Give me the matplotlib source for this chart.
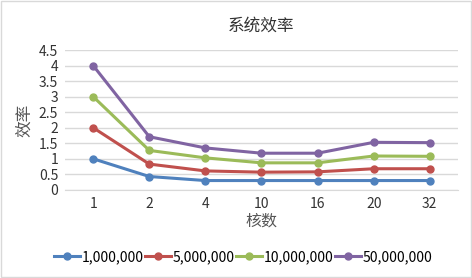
import numpy as np
import matplotlib.pyplot as plt
from matplotlib.patches import Rectangle

plt.rcParams['font.family'] = ['Noto Sans CJK SC', 'DejaVu Sans']

# data
cores = ['1', '2', '4', '10', '16', '20', '32']
s_1m = [1.0, 0.43, 0.30, 0.30, 0.30, 0.30, 0.30]
s_5m = [2.0, 0.83, 0.61, 0.57, 0.58, 0.68, 0.68]
s_10m = [3.0, 1.27, 1.03, 0.87, 0.87, 1.09, 1.08]
s_50m = [4.0, 1.71, 1.35, 1.18, 1.18, 1.53, 1.52]
labels = ['1,000,000', '5,000,000', '10,000,000', '50,000,000']
colors = ['#4F81BD', '#C0504D', '#9BBB59', '#8064A2']

fig = plt.figure(figsize=(4.72, 2.78), dpi=100)
ax = fig.add_axes([0.138, 0.317, 0.832, 0.503])

x = np.arange(len(cores))
for ys, lab, c in zip([s_1m, s_5m, s_10m, s_50m], labels, colors):
    ax.plot(x, ys, color=c, lw=2.2, marker='o', ms=5, label=lab)

ax.set_xlim(-0.5, len(cores) - 0.5)
ax.set_ylim(0, 4.5)
ax.set_yticks(np.arange(0, 4.51, 0.5))
ax.set_yticklabels(['0', '0.5', '1', '1.5', '2', '2.5', '3', '3.5', '4', '4.5'])
ax.set_xticks(x)
ax.set_xticklabels(cores)
ax.grid(axis='y', color='#D9D9D9', lw=1)
ax.set_axisbelow(True)
for s in ax.spines.values():
    s.set_visible(False)
ax.spines['bottom'].set_visible(True)
ax.spines['bottom'].set_color('#D9D9D9')
ax.tick_params(length=0, labelsize=10, colors='#333333', pad=5)

ax.set_title('系统效率', fontsize=12, color='#333333', pad=14)
ax.set_xlabel('核数', fontsize=11.5, color='#555555', labelpad=1)
ax.set_ylabel('效率', fontsize=12, color='#555555', labelpad=4)

fig.legend(loc='lower center', bbox_to_anchor=(0.515, 0.005), ncol=4, frameon=False,
           fontsize=10, handlelength=1.9, handletextpad=0.1, columnspacing=0.1)

fig.patches.append(Rectangle((0.003, 0.004), 0.994, 0.992, transform=fig.transFigure,
                             fill=False, edgecolor='#D9D9D9', lw=1))

fig.savefig('out.png', dpi=100)
